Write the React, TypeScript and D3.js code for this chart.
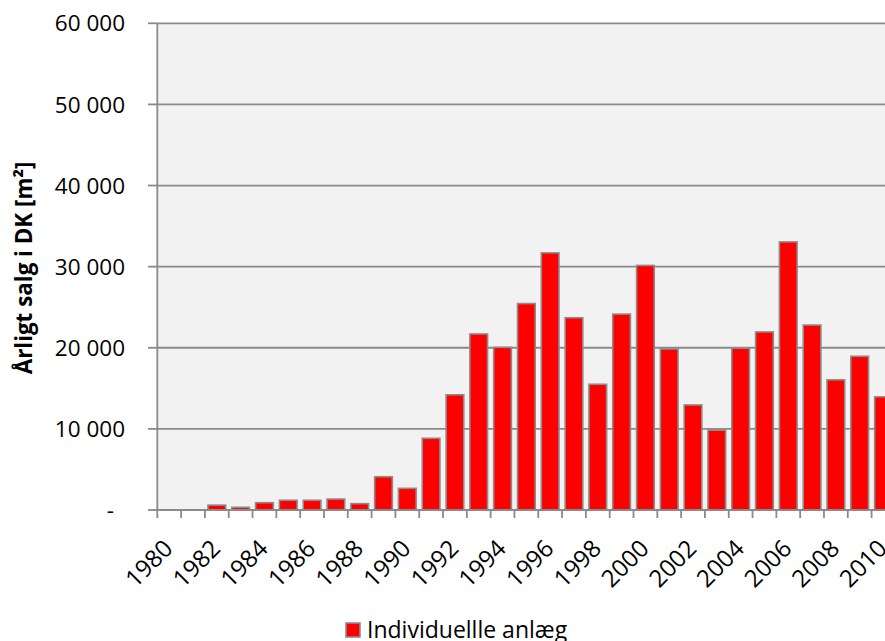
import React from "react";
import * as d3 from "d3";

const years: number[] = d3.range(1980, 2011);
const values: number[] = [
  0, 0, 600, 330, 900, 1200, 1200, 1350, 780, 4100, 2670, 8840, 14200, 21700,
  20050, 25450, 31700, 23700, 15500, 24150, 30150, 19850, 12950, 9850, 19950,
  21950, 33050, 22800, 16050, 18950, 13950,
];
const yTicks: number[] = [0, 10000, 20000, 30000, 40000, 50000, 60000];
const xLabelYears: number[] = years.filter((y) => y % 2 === 0);
const yTitle = "Årligt salg i DK [m²]";
const legendLabel = "Individuellle anlæg";

const W = 885;
const H = 641;
const left = 157.3;
const right = 895.4;
const top = 23.3;
const bottom = 510;
const FONT = "'Open Sans', sans-serif";

export default function App() {
  const x = d3
    .scaleBand<number>()
    .domain(years)
    .range([left, right])
    .paddingInner(0.19)
    .paddingOuter(0.095);
  const y = d3.scaleLinear().domain([0, 60000]).range([bottom, top]);
  const fmt = (v: number) => (v === 0 ? "-" : d3.format(",")(v).replace(/,/g, " "));
  const step = x.step();
  const boundaries = d3.range(years.length + 1).map((i) => left + i * step);

  return (
    <svg
      width={W}
      height={H}
      style={{ position: "absolute", left: 0, top: 0, background: "#fff" }}
      fontFamily={FONT}
    >
      <rect x={left} y={top} width={right - left} height={bottom - top} fill="#f2f2f2" />
      {yTicks.map((t) => (
        <g key={t}>
          <line x1={left} x2={right} y1={y(t)} y2={y(t)} stroke="#8a8a8a" strokeWidth={1.8} />
          <line x1={148} x2={left} y1={y(t)} y2={y(t)} stroke="#8a8a8a" strokeWidth={1.8} />
          <text
            x={t === 0 ? 114 : 125}
            y={y(t)}
            dy="0.36em"
            textAnchor="end"
            fontSize={22.5}
            fill="#000"
          >
            {fmt(t)}
          </text>
        </g>
      ))}
      {years.map((yr, i) => (
        <rect
          key={yr}
          x={x(yr)! + 0.8}
          y={y(values[i])}
          width={x.bandwidth() - 1.6}
          height={bottom - y(values[i])}
          fill="#ff0000"
          stroke="#8c8c8c"
          strokeWidth={1.6}
        />
      ))}
      <line x1={left} x2={left} y1={top} y2={bottom + 1} stroke="#8a8a8a" strokeWidth={1.8} />
      <line x1={left} x2={right} y1={bottom} y2={bottom} stroke="#8a8a8a" strokeWidth={1.8} />
      {boundaries.map((bx, i) => (
        <line key={i} x1={bx} x2={bx} y1={bottom} y2={518} stroke="#8a8a8a" strokeWidth={1.8} />
      ))}
      {xLabelYears.map((yr) => {
        const cx = x(yr)! + x.bandwidth() / 2 + 5;
        const cy = 550;
        return (
          <text
            key={yr}
            x={cx}
            y={cy}
            textAnchor="end"
            fontSize={24}
            transform={`rotate(-45 ${cx} ${cy})`}
            fill="#000"
          >
            {yr}
          </text>
        );
      })}
      <text
        x={0}
        y={0}
        transform={`translate(32 ${268}) rotate(-90)`}
        textAnchor="middle"
        fontSize={22.4}
        fontWeight="bold"
        fill="#000"
      >
        {yTitle}
      </text>
      <rect x={346} y={623} width={14} height={14} fill="#ff0000" stroke="#8c8c8c" strokeWidth={1.6} />
      <text x={367} y={637.5} fontSize={23} fill="#000">
        {legendLabel}
      </text>
    </svg>
  );
}
